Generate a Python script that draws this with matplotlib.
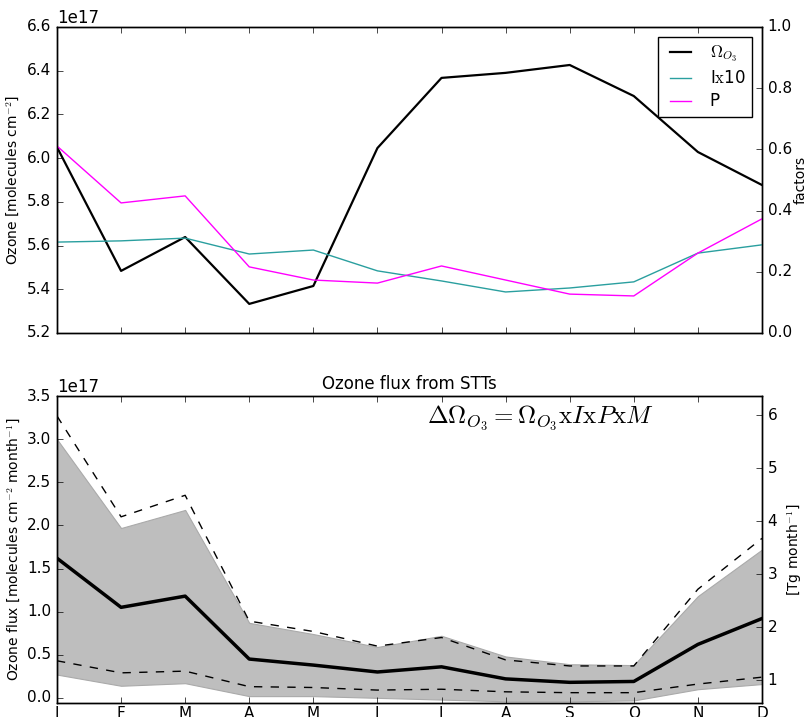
import numpy as np
import matplotlib
matplotlib.use("Agg")
import matplotlib.pyplot as plt

plt.style.use('classic')
plt.rcParams['mathtext.fontset'] = 'cm'
plt.rcParams['font.family'] = ['DejaVu Sans']

months = ['J', 'F', 'M', 'A', 'M', 'J', 'J', 'A', 'S', 'O', 'N', 'D']

# top panel: ozone column (1e17) and factors
omega = [6.05, 5.484, 5.639, 5.333, 5.415, 6.046, 6.367, 6.39, 6.426, 6.284, 6.028, 5.877]
ix10 = [0.297, 0.301, 0.31, 0.258, 0.271, 0.203, 0.17, 0.134, 0.147, 0.167, 0.261, 0.288]
p_fac = [0.611, 0.425, 0.448, 0.216, 0.173, 0.163, 0.219, 0.173, 0.127, 0.121, 0.261, 0.373]

# bottom panel: ozone flux (1e17)
flux = [1.62, 1.05, 1.18, 0.45, 0.38, 0.30, 0.36, 0.22, 0.18, 0.19, 0.62, 0.92]
flux_hi = [3.27, 2.10, 2.35, 0.89, 0.77, 0.60, 0.70, 0.44, 0.37, 0.37, 1.26, 1.85]
flux_lo = [0.43, 0.29, 0.31, 0.13, 0.12, 0.09, 0.10, 0.07, 0.06, 0.06, 0.16, 0.24]
band_hi = [3.0, 1.97, 2.18, 0.87, 0.74, 0.59, 0.72, 0.48, 0.39, 0.38, 1.18, 1.72]
band_lo = [0.27, 0.14, 0.17, 0.02, 0.02, 0.0, -0.02, -0.04, -0.04, -0.03, 0.10, 0.16]

x = np.arange(12)
e17 = 1e17

fig = plt.figure(figsize=(8.07, 7.17), dpi=100, facecolor='white')

#top panel
ax1 = fig.add_axes([0.0706, 0.5356, 0.8736, 0.4268])
ax1.plot(x, np.array(omega) * e17, color='k', lw=1.6, label=r'$\Omega_{O_3}$')
ax1.set_ylim(5.2e17, 6.6e17)
ax1.set_xlim(0, 11)
ax1.set_xticks(x)
ax1.set_xticklabels([])
ax1.set_ylabel(r'Ozone [molecules cm$^{-2}$]', fontsize=10, labelpad=4)
ax1.tick_params(labelsize=11)
ax1b = ax1.twinx()
ax1b.plot(x, ix10, color='#2a9f9f', lw=1, label=r'I$\mathrm{x}$10')
ax1b.plot(x, p_fac, color='magenta', lw=1, label='P')
ax1b.set_ylim(0, 1)
ax1b.set_xlim(0, 11)
ax1b.set_ylabel('factors', fontsize=10, labelpad=1)
ax1b.tick_params(labelsize=11)
h1, l1 = ax1.get_legend_handles_labels()
h2, l2 = ax1b.get_legend_handles_labels()
ax1b.legend(h1 + h2, l1 + l2, loc='upper right', fontsize=12, handlelength=1.9,
            labelspacing=0.3, borderaxespad=0.6)

#bottom panel
ax2 = fig.add_axes([0.0706, 0.0195, 0.8736, 0.428])
ax2.fill_between(x, np.array(band_lo) * e17, np.array(band_hi) * e17, color='#bebebe', edgecolor='#aaaaaa', lw=0.8)
ax2.plot(x, np.array(flux) * e17, color='k', lw=2.5)
ax2.plot(x, np.array(flux_hi) * e17, 'k--', lw=1)
ax2.plot(x, np.array(flux_lo) * e17, 'k--', lw=1)
ax2.set_ylim(-0.06e17, 3.5e17)
ax2.set_xlim(0, 11)
ax2.set_xticks(x)
ax2.set_xticklabels(months)
ax2.set_ylabel(r'Ozone flux [molecules cm$^{-2}$ month$^{-1}$]', fontsize=10, labelpad=4)
ax2.set_title('Ozone flux from STTs', fontsize=12)
ax2.tick_params(labelsize=11)
ax2.tick_params(axis='x', pad=2)
ax2.text(0.686, 0.93, r'$\Delta\Omega_{O_3} = \Omega_{O_3}\mathrm{x}I\mathrm{x}P\mathrm{x}M$',
         transform=ax2.transAxes, ha='center', va='center', fontsize=18)
ax2b = ax2.twinx()
ax2b.set_ylim(0.566, 6.36)
ax2b.set_xlim(0, 11)
ax2b.set_yticks([1, 2, 3, 4, 5, 6])
ax2b.set_ylabel(r'[Tg month$^{-1}$]', fontsize=10, labelpad=6)
ax2b.tick_params(labelsize=11)

fig.savefig('out.png', dpi=100, facecolor='white')
